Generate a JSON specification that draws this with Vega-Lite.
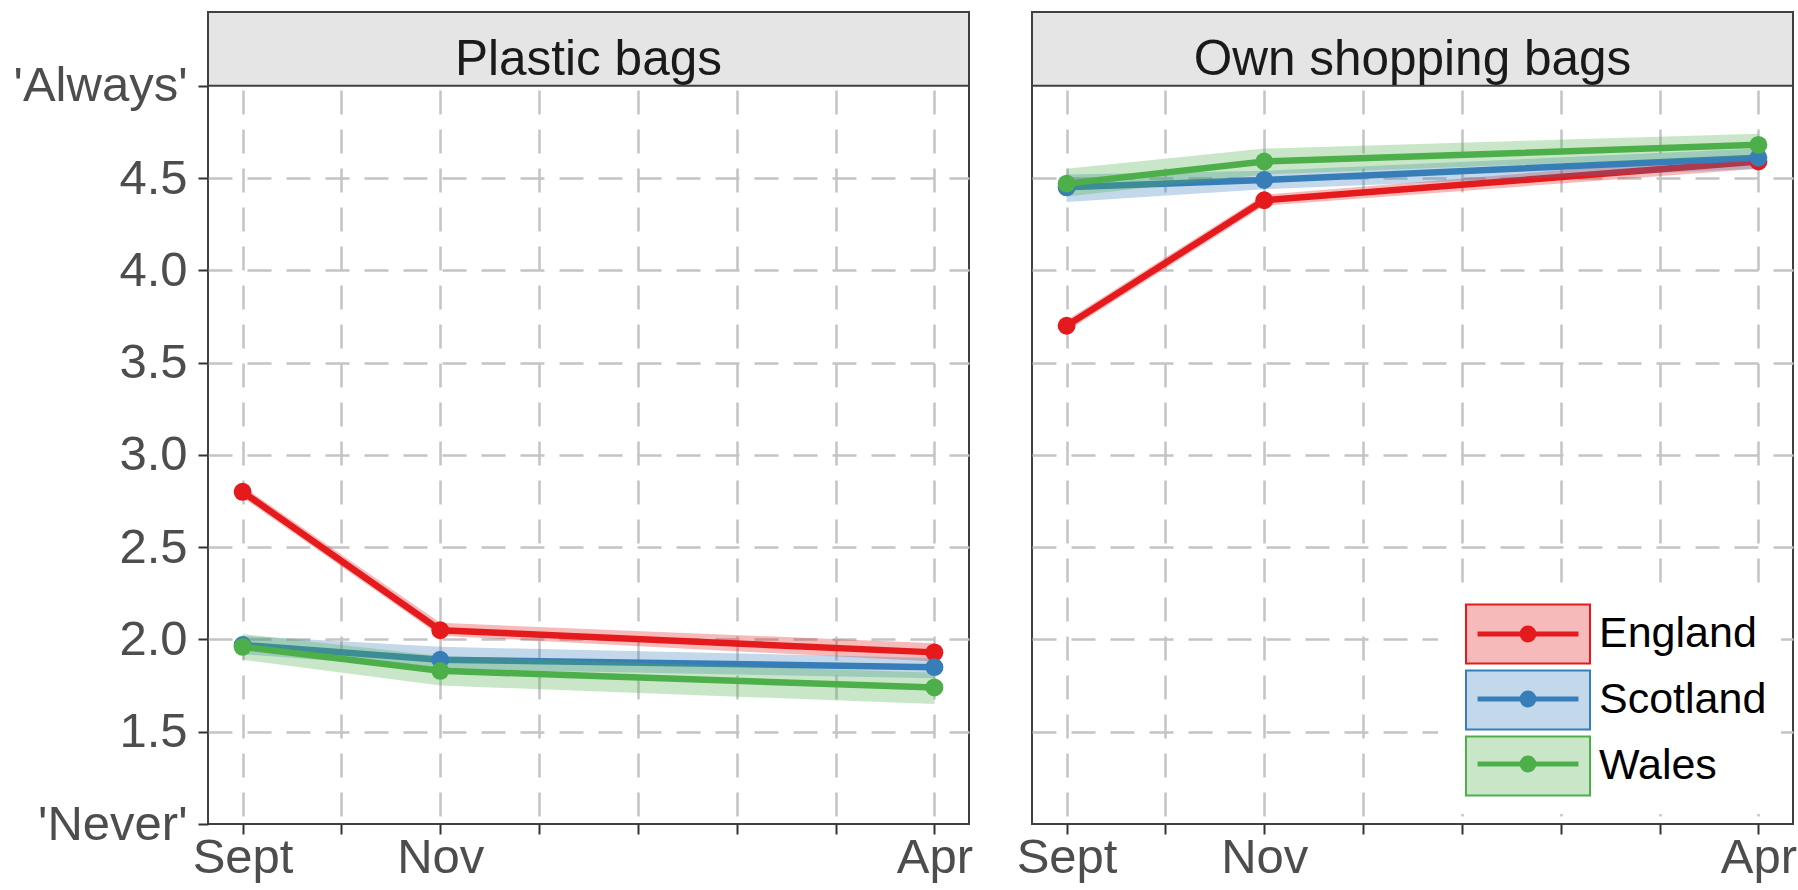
{
  "$schema": "https://vega.github.io/schema/vega-lite/v6.json",
  "background": "white",
  "padding": {"left": 12, "top": 10, "right": 0, "bottom": 0},
  "bounds": "flush",
  "spacing": 63,
  "config": {
    "font": "Liberation Sans",
    "view": {"stroke": "#404040", "strokeWidth": 2},
    "axis": {
      "gridColor": "#c4c4c4",
      "gridWidth": 2.5,
      "gridDash": [24, 15],
      "domain": false,
      "tickColor": "#333333",
      "tickWidth": 2,
      "tickSize": 10,
      "labelFont": "Liberation Sans",
      "labelFontSize": 49,
      "labelColor": "#4d4d4d"
    }
  },
  "data": {
    "values": [
      {"panel": "Plastic bags", "country": "England", "month": 0, "mean": 2.80, "lo": 2.77, "hi": 2.83},
      {"panel": "Plastic bags", "country": "England", "month": 2, "mean": 2.05, "lo": 2.02, "hi": 2.09},
      {"panel": "Plastic bags", "country": "England", "month": 7, "mean": 1.93, "lo": 1.88, "hi": 1.98},
      {"panel": "Plastic bags", "country": "Scotland", "month": 0, "mean": 1.97, "lo": 1.92, "hi": 2.02},
      {"panel": "Plastic bags", "country": "Scotland", "month": 2, "mean": 1.89, "lo": 1.84, "hi": 1.96},
      {"panel": "Plastic bags", "country": "Scotland", "month": 7, "mean": 1.85, "lo": 1.79, "hi": 1.90},
      {"panel": "Plastic bags", "country": "Wales", "month": 0, "mean": 1.96, "lo": 1.89, "hi": 2.03},
      {"panel": "Plastic bags", "country": "Wales", "month": 2, "mean": 1.83, "lo": 1.75, "hi": 1.91},
      {"panel": "Plastic bags", "country": "Wales", "month": 7, "mean": 1.74, "lo": 1.65, "hi": 1.82},
      {"panel": "Own shopping bags", "country": "England", "month": 0, "mean": 3.70, "lo": 3.67, "hi": 3.73},
      {"panel": "Own shopping bags", "country": "England", "month": 2, "mean": 4.38, "lo": 4.35, "hi": 4.41},
      {"panel": "Own shopping bags", "country": "England", "month": 7, "mean": 4.59, "lo": 4.55, "hi": 4.63},
      {"panel": "Own shopping bags", "country": "Scotland", "month": 0, "mean": 4.45, "lo": 4.37, "hi": 4.52},
      {"panel": "Own shopping bags", "country": "Scotland", "month": 2, "mean": 4.49, "lo": 4.44, "hi": 4.54},
      {"panel": "Own shopping bags", "country": "Scotland", "month": 7, "mean": 4.61, "lo": 4.55, "hi": 4.66},
      {"panel": "Own shopping bags", "country": "Wales", "month": 0, "mean": 4.47, "lo": 4.40, "hi": 4.55},
      {"panel": "Own shopping bags", "country": "Wales", "month": 2, "mean": 4.59, "lo": 4.52, "hi": 4.66},
      {"panel": "Own shopping bags", "country": "Wales", "month": 7, "mean": 4.68, "lo": 4.62, "hi": 4.74}
    ]
  },
  "hconcat": [
    {
      "width": 761,
      "height": 812,
      "transform": [{"filter": "datum.panel === 'Plastic bags'"}],
      "layer": [
        {
          "transform": [{"aggregate": [{"op": "count", "as": "n"}], "groupby": ["panel"]}],
          "layer": [
            {
              "mark": {"type": "rect", "fill": "#e5e5e5", "stroke": "#404040", "strokeWidth": 2},
              "encoding": {
                "y": {"datum": 5, "type": "quantitative", "scale": {"domain": [1, 5.4], "nice": false, "zero": false}},
                "y2": {"datum": 5.4}
              }
            },
            {
              "mark": {"type": "text", "fontSize": 49.5, "color": "#1a1a1a", "baseline": "alphabetic"},
              "encoding": {
                "text": {"field": "panel"},
                "y": {"datum": 5.056, "type": "quantitative", "scale": {"domain": [1, 5.4], "nice": false, "zero": false}}
              }
            }
          ]
        },
        {
          "encoding": {
            "x": {
              "field": "month", "type": "quantitative",
              "scale": {"domain": [-0.35, 7.35], "nice": false, "zero": false},
              "axis": {
                "title": null, "grid": true, "values": [0, 1, 2, 3, 4, 5, 6, 7], "labelPadding": -1,
                "labelOverlap": false, "labelFlush": false,
                "labelExpr": "datum.value === 0 ? 'Sept' : datum.value === 2 ? 'Nov' : datum.value === 7 ? 'Apr' : ''"
              }
            },
            "y": {
              "field": "mean", "type": "quantitative",
              "scale": {"domain": [1, 5.4], "nice": false, "zero": false},
              "axis": {
                "title": null, "grid": true, "values": [1, 1.5, 2, 2.5, 3, 3.5, 4, 4.5, 5], "labelPadding": 11,
                "labelOverlap": false, "labelFlush": false,
                "gridOpacity": {"condition": {"test": "datum.value === 1 || datum.value === 5", "value": 0}, "value": 1},
                "labelExpr": "datum.value === 1 ? \"'Never'\" : datum.value === 5 ? \"'Always'\" : format(datum.value, '.1f')"
              }
            }
          },
          "layer": [
            {
              "transform": [{"filter": "datum.country === 'England'"}],
              "layer": [
                {
                  "mark": {"type": "area", "fillOpacity": 0.3},
                  "encoding": {
                    "y": {"field": "lo", "type": "quantitative", "scale": {"domain": [1, 5.4], "nice": false, "zero": false}},
                    "y2": {"field": "hi"},
                    "fill": {
                      "field": "country", "type": "nominal",
                      "scale": {"domain": ["England", "Scotland", "Wales"], "range": ["#e41a1c", "#377eb8", "#4daf4a"]},
                      "legend": {
                        "title": null, "orient": "none", "direction": "vertical",
                        "legendX": 1230, "legendY": 576, "padding": 14, "fillColor": "white",
                        "rowPadding": -4, "zindex": 1,
                        "symbolType": "M-2,-0.95H2V0.95H-2Z", "symbolSize": 3844, "symbolStrokeWidth": 2, "symbolOffset": 44,
                        "labelFont": "Liberation Sans", "labelFontSize": 43, "labelColor": "#000000", "labelOffset": 39, "labelLimit": 400,
                        "encoding": {
                          "symbols": {
                            "fillOpacity": {"value": 0.3},
                            "opacity": {"value": 1},
                            "stroke": {"value": {"expr": "scale('fill', datum.value)"}}
                          }
                        }
                      }
                    }
                  }
                },
                {
                  "mark": {"type": "line", "strokeWidth": 6.5},
                  "encoding": {"stroke": {"field": "country", "type": "nominal", "scale": {"range": ["#e41a1c", "#377eb8", "#4daf4a"]}, "legend": null}}
                }
              ]
            },
            {
              "transform": [{"filter": "datum.country === 'Scotland'"}],
              "layer": [
                {
                  "mark": {"type": "area", "fillOpacity": 0.3},
                  "encoding": {
                    "y": {"field": "lo", "type": "quantitative", "scale": {"domain": [1, 5.4], "nice": false, "zero": false}},
                    "y2": {"field": "hi"},
                    "fill": {"field": "country", "type": "nominal", "scale": {"domain": ["England", "Scotland", "Wales"], "range": ["#e41a1c", "#377eb8", "#4daf4a"]}}
                  }
                },
                {
                  "mark": {"type": "line", "strokeWidth": 6.5},
                  "encoding": {"stroke": {"field": "country", "type": "nominal", "scale": {"range": ["#e41a1c", "#377eb8", "#4daf4a"]}, "legend": null}}
                }
              ]
            },
            {
              "transform": [{"filter": "datum.country === 'Wales'"}],
              "layer": [
                {
                  "mark": {"type": "area", "fillOpacity": 0.3},
                  "encoding": {
                    "y": {"field": "lo", "type": "quantitative", "scale": {"domain": [1, 5.4], "nice": false, "zero": false}},
                    "y2": {"field": "hi"},
                    "fill": {"field": "country", "type": "nominal", "scale": {"domain": ["England", "Scotland", "Wales"], "range": ["#e41a1c", "#377eb8", "#4daf4a"]}}
                  }
                },
                {
                  "mark": {"type": "line", "strokeWidth": 6.5},
                  "encoding": {"stroke": {"field": "country", "type": "nominal", "scale": {"range": ["#e41a1c", "#377eb8", "#4daf4a"]}, "legend": null}}
                }
              ]
            },
            {
              "mark": {"type": "point", "filled": true, "size": 320, "opacity": 1},
              "encoding": {
                "color": {
                  "field": "country", "type": "nominal",
                  "scale": {"range": ["#e41a1c", "#377eb8", "#4daf4a"]},
                  "legend": {
                    "title": null, "orient": "none", "direction": "vertical",
                    "legendX": 1230, "legendY": 576, "padding": 14,
                    "rowPadding": 11, "zindex": 2,
                    "symbolType": "M-1.71,0H1.71M0.2,0A0.2,0.2 0 1,1 -0.2,0A0.2,0.2 0 1,1 0.2,0Z",
                    "symbolSize": 3481, "symbolStrokeWidth": 5, "symbolOffset": 44,
                    "labelFontSize": 43, "labelOpacity": 0, "labelOffset": 39, "labelLimit": 400,
                    "encoding": {
                      "symbols": {
                        "fillOpacity": {"value": 1},
                        "opacity": {"value": 1},
                        "stroke": {"value": {"expr": "scale('color', datum.value)"}}
                      }
                    }
                  }
                }
              }
            }
          ]
        }
      ]
    },
    {
      "width": 761,
      "height": 812,
      "transform": [{"filter": "datum.panel === 'Own shopping bags'"}],
      "layer": [
        {
          "transform": [{"aggregate": [{"op": "count", "as": "n"}], "groupby": ["panel"]}],
          "layer": [
            {
              "mark": {"type": "rect", "fill": "#e5e5e5", "stroke": "#404040", "strokeWidth": 2},
              "encoding": {
                "y": {"datum": 5, "type": "quantitative", "scale": {"domain": [1, 5.4], "nice": false, "zero": false}},
                "y2": {"datum": 5.4}
              }
            },
            {
              "mark": {"type": "text", "fontSize": 49.5, "color": "#1a1a1a", "baseline": "alphabetic"},
              "encoding": {
                "text": {"field": "panel"},
                "y": {"datum": 5.056, "type": "quantitative", "scale": {"domain": [1, 5.4], "nice": false, "zero": false}}
              }
            }
          ]
        },
        {
          "encoding": {
            "x": {
              "field": "month", "type": "quantitative",
              "scale": {"domain": [-0.35, 7.35], "nice": false, "zero": false},
              "axis": {
                "title": null, "grid": true, "values": [0, 1, 2, 3, 4, 5, 6, 7], "labelPadding": -1,
                "labelOverlap": false, "labelFlush": false,
                "labelExpr": "datum.value === 0 ? 'Sept' : datum.value === 2 ? 'Nov' : datum.value === 7 ? 'Apr' : ''"
              }
            },
            "y": {
              "field": "mean", "type": "quantitative",
              "scale": {"domain": [1, 5.4], "nice": false, "zero": false},
              "axis": {
                "title": null, "grid": true, "values": [1.5, 2, 2.5, 3, 3.5, 4, 4.5],
                "labels": false, "ticks": false
              }
            }
          },
          "layer": [
            {
              "transform": [{"filter": "datum.country === 'England'"}],
              "layer": [
                {
                  "mark": {"type": "area", "fillOpacity": 0.3},
                  "encoding": {
                    "y": {"field": "lo", "type": "quantitative", "scale": {"domain": [1, 5.4], "nice": false, "zero": false}},
                    "y2": {"field": "hi"},
                    "fill": {"field": "country", "type": "nominal", "scale": {"domain": ["England", "Scotland", "Wales"], "range": ["#e41a1c", "#377eb8", "#4daf4a"]}}
                  }
                },
                {
                  "mark": {"type": "line", "strokeWidth": 6.5},
                  "encoding": {"stroke": {"field": "country", "type": "nominal", "scale": {"range": ["#e41a1c", "#377eb8", "#4daf4a"]}, "legend": null}}
                }
              ]
            },
            {
              "transform": [{"filter": "datum.country === 'Scotland'"}],
              "layer": [
                {
                  "mark": {"type": "area", "fillOpacity": 0.3},
                  "encoding": {
                    "y": {"field": "lo", "type": "quantitative", "scale": {"domain": [1, 5.4], "nice": false, "zero": false}},
                    "y2": {"field": "hi"},
                    "fill": {"field": "country", "type": "nominal", "scale": {"domain": ["England", "Scotland", "Wales"], "range": ["#e41a1c", "#377eb8", "#4daf4a"]}}
                  }
                },
                {
                  "mark": {"type": "line", "strokeWidth": 6.5},
                  "encoding": {"stroke": {"field": "country", "type": "nominal", "scale": {"range": ["#e41a1c", "#377eb8", "#4daf4a"]}, "legend": null}}
                }
              ]
            },
            {
              "transform": [{"filter": "datum.country === 'Wales'"}],
              "layer": [
                {
                  "mark": {"type": "area", "fillOpacity": 0.3},
                  "encoding": {
                    "y": {"field": "lo", "type": "quantitative", "scale": {"domain": [1, 5.4], "nice": false, "zero": false}},
                    "y2": {"field": "hi"},
                    "fill": {"field": "country", "type": "nominal", "scale": {"domain": ["England", "Scotland", "Wales"], "range": ["#e41a1c", "#377eb8", "#4daf4a"]}}
                  }
                },
                {
                  "mark": {"type": "line", "strokeWidth": 6.5},
                  "encoding": {"stroke": {"field": "country", "type": "nominal", "scale": {"range": ["#e41a1c", "#377eb8", "#4daf4a"]}, "legend": null}}
                }
              ]
            },
            {
              "mark": {"type": "point", "filled": true, "size": 320, "opacity": 1},
              "encoding": {"color": {"field": "country", "type": "nominal", "scale": {"range": ["#e41a1c", "#377eb8", "#4daf4a"]}}}
            }
          ]
        }
      ]
    }
  ]
}
